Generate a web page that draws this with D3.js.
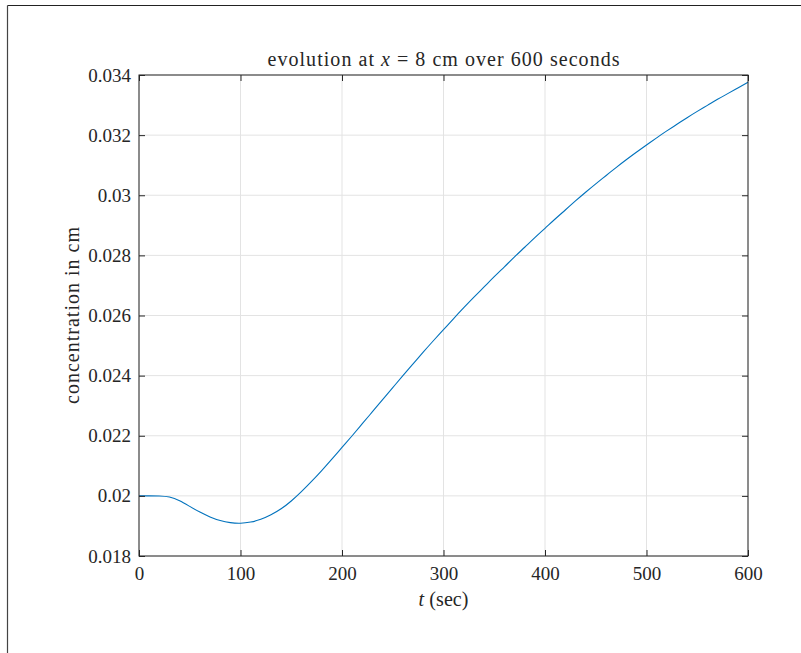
<!DOCTYPE html>
<html>
<head>
<meta charset="utf-8">
<script src="https://cdn.jsdelivr.net/npm/d3@7"></script>
<style>
html,body{margin:0;padding:0;background:#fff;}
svg{display:block;}
text{font-family:"Liberation Serif","Times New Roman",serif;fill:#262626;}
</style>
</head>
<body>
<svg id="chart" width="801" height="653"></svg>
<script>
// ---- data ----
const timeSec = [0,10,20,30,40,50,60,70,80,90,100,110,120,130,140,150,160,170,180,190,200,
  210,220,230,240,250,260,270,280,290,300,310,320,330,340,350,360,370,380,390,400,
  410,420,430,440,450,460,470,480,490,500,510,520,530,540,550,560,570,580,590,600];
const concentration = [0.02000,0.02000,0.019995,0.01996,0.01984,0.01965,0.01946,0.01930,0.01918,0.01911,0.01909,
  0.01913,0.01922,0.01937,0.01957,0.01983,0.02014,0.02048,0.02084,0.02122,0.02161,
  0.02200,0.02240,0.02280,0.02320,0.02360,0.02400,0.02439,0.02478,0.02516,0.02553,
  0.02590,0.02626,0.02661,0.02695,0.02729,0.02762,0.02795,0.02827,0.02859,0.02890,
  0.02921,0.02951,0.02981,0.03010,0.03038,0.03065,0.03092,0.03118,0.03143,0.03167,
  0.03191,0.03214,0.03236,0.03258,0.03279,0.03299,0.03319,0.03338,0.03357,0.03376];
const xTicks = [0,100,200,300,400,500,600];
const xTickLabels = ["0","100","200","300","400","500","600"];
const yTicks = [0.018,0.020,0.022,0.024,0.026,0.028,0.030,0.032,0.034];
const yTickLabels = ["0.018","0.02","0.022","0.024","0.026","0.028","0.03","0.032","0.034"];

// ---- layout ----
const svg = d3.select("#chart");
const L = 139, R = 748, T = 75, B = 556;
const x = d3.scaleLinear().domain([0,600]).range([L,R]);
const y = d3.scaleLinear().domain([0.018,0.034]).range([B,T]);
const axisColor = "#262626";
const fs = 19, fsLab = 20;

// figure frame (partial)
svg.append("line").attr("x1",7.5).attr("x2",801).attr("y1",5.5).attr("y2",5.5).attr("stroke","#222").attr("stroke-width",1.2);
svg.append("line").attr("x1",7.5).attr("x2",7.5).attr("y1",5.5).attr("y2",653).attr("stroke","#444").attr("stroke-width",1.2);

// grid
const g = svg.append("g");
g.selectAll(".gx").data(xTicks).enter().append("line")
  .attr("x1",d=>x(d)).attr("x2",d=>x(d)).attr("y1",T).attr("y2",B)
  .attr("stroke","#e3e3e3").attr("stroke-width",1);
g.selectAll(".gy").data(yTicks).enter().append("line")
  .attr("x1",L).attr("x2",R).attr("y1",d=>y(d)).attr("y2",d=>y(d))
  .attr("stroke","#e3e3e3").attr("stroke-width",1);

// curve
const line = d3.line().x((d,i)=>x(timeSec[i])).y(d=>y(d)).curve(d3.curveNatural);
svg.append("path").datum(concentration).attr("d",line)
  .attr("fill","none").attr("stroke","#0072BD").attr("stroke-width",1.1);

// axes with inward ticks
const tk = 6;
const axB = d3.axisBottom(x).tickValues(xTicks).tickSize(-tk).tickPadding(11).tickFormat((d,i)=>xTickLabels[i]);
const axT = d3.axisTop(x).tickValues(xTicks).tickSize(-tk).tickFormat("");
const axL = d3.axisLeft(y).tickValues(yTicks).tickSize(-tk).tickPadding(8).tickFormat((d,i)=>yTickLabels[i]);
const axR = d3.axisRight(y).tickValues(yTicks).tickSize(-tk).tickFormat("");
function style(sel){
  sel.select(".domain").remove();
  sel.selectAll("line").attr("stroke",axisColor).attr("stroke-width",1);
  sel.selectAll("text").attr("font-size",fs).attr("font-family","Liberation Serif, serif").attr("fill",axisColor);
}
svg.append("g").attr("transform",`translate(0,${B})`).call(axB).call(style);
svg.append("g").attr("transform",`translate(0,${T})`).call(axT).call(style);
svg.append("g").attr("transform",`translate(${L},0)`).call(axL).call(style);
svg.append("g").attr("transform",`translate(${R},0)`).call(axR).call(style);
svg.append("rect").attr("x",L).attr("y",T).attr("width",R-L).attr("height",B-T)
  .attr("fill","none").attr("stroke",axisColor).attr("stroke-width",1);

// title
const title = svg.append("text").attr("x",(L+R)/2).attr("y",66).attr("text-anchor","middle")
  .attr("font-size",fsLab).attr("textLength",352).attr("lengthAdjust","spacing");
title.append("tspan").text("evolution at ");
title.append("tspan").attr("font-style","italic").text("x");
title.append("tspan").text(" = 8 cm over 600 seconds");

// x label
const xl = svg.append("text").attr("x",(L+R)/2).attr("y",606).attr("text-anchor","middle")
  .attr("font-size",fsLab).attr("textLength",50).attr("lengthAdjust","spacing");
xl.append("tspan").attr("font-style","italic").text("t");
xl.append("tspan").text(" (sec)");

// y label
svg.append("text").attr("transform",`translate(79,${(T+B)/2}) rotate(-90)`)
  .attr("text-anchor","middle").attr("font-size",fsLab)
  .attr("textLength",177).attr("lengthAdjust","spacing").text("concentration in cm");
</script>
</body>
</html>
